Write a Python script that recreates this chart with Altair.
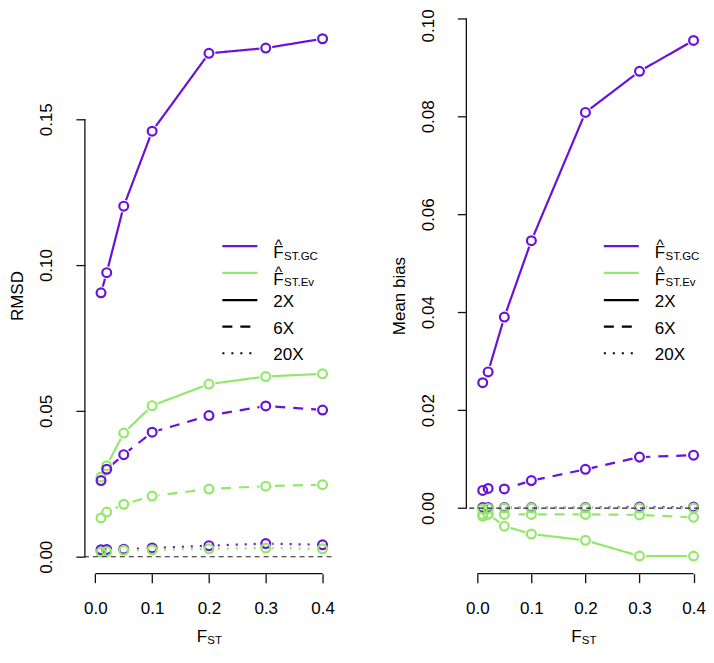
import altair as alt
import pandas as pd

FONT = "Liberation Sans"
PURPLE = "#6A12D8"
GREEN = "#92E86A"

fst = [0.01, 0.02, 0.05, 0.1, 0.2, 0.3, 0.4]
x_ticks = [0.0, 0.1, 0.2, 0.3, 0.4]

# Left panel: RMSD
rmsd_gc_2x = [0.0905, 0.0974, 0.1202, 0.1459, 0.1726, 0.1744, 0.1776]
rmsd_ev_2x = [0.0273, 0.0312, 0.0424, 0.0518, 0.0592, 0.0618, 0.0627]
rmsd_gc_6x = [0.0261, 0.0300, 0.0350, 0.0427, 0.0484, 0.0517, 0.0503]
rmsd_ev_6x = [0.0133, 0.0153, 0.0180, 0.0208, 0.0232, 0.0242, 0.0247]
rmsd_gc_20x = [0.0024, 0.0025, 0.0026, 0.0030, 0.0038, 0.0045, 0.0041]
rmsd_ev_20x = [0.0016, 0.0018, 0.0022, 0.0024, 0.0027, 0.0030, 0.0027]
rmsd_ticks = [0.0, 0.05, 0.10, 0.15]

# Right panel: mean bias
bias_gc_2x = [0.0256, 0.0278, 0.0390, 0.0546, 0.0808, 0.0892, 0.0955]
bias_ev_2x = [-0.0017, -0.0012, -0.0037, -0.0053, -0.0066, -0.0098, -0.0098]
bias_gc_6x = [0.0036, 0.0040, 0.0039, 0.0056, 0.0079, 0.0104, 0.0108]
bias_ev_6x = [-0.0013, -0.0013, -0.0013, -0.0013, -0.0013, -0.0014, -0.0019]
bias_gc_20x = [0.0001, 0.0001, 0.0001, 0.0001, 0.0001, 0.0002, 0.0002]
bias_ev_20x = [-0.0002, -0.0001, 0.0000, 0.0000, 0.0000, 0.0000, 0.0000]
bias_ticks = [0.0, 0.02, 0.04, 0.06, 0.08, 0.10]

methods = ["GC", "Ev"]
coverages = ["2X", "6X", "20X"]


def long_frame(series):
    rows = []
    for (m, c), vals in series.items():
        for xv, v in zip(fst, vals):
            rows.append({"x": xv, "value": v, "method": m, "cov": c, "series": m + c})
    return pd.DataFrame(rows)


df_rmsd = long_frame({
    ("GC", "2X"): rmsd_gc_2x, ("Ev", "2X"): rmsd_ev_2x,
    ("GC", "6X"): rmsd_gc_6x, ("Ev", "6X"): rmsd_ev_6x,
    ("GC", "20X"): rmsd_gc_20x, ("Ev", "20X"): rmsd_ev_20x,
})
df_bias = long_frame({
    ("GC", "2X"): bias_gc_2x, ("Ev", "2X"): bias_ev_2x,
    ("GC", "6X"): bias_gc_6x, ("Ev", "6X"): bias_ev_6x,
    ("GC", "20X"): bias_gc_20x, ("Ev", "20X"): bias_ev_20x,
})

DASHES = [[1, 0], [10, 8], [2, 7]]
HEIGHT = 557
AXIS_COLOR = "#111111"


def panel(df, width, xdom, ydom, yticks, ytitle, top_label_shift=0):
    x = alt.X("x:Q", scale=alt.Scale(domain=xdom, nice=False, zero=False),
              axis=alt.Axis(values=x_ticks, format=".1f", domain=False, grid=False,
                            ticks=True, tickSize=9, tickColor=AXIS_COLOR, tickWidth=1.3,
                            labelPadding=18, labelFontSize=17, labelColor="black",
                            labelFont=FONT, title=None))
    label_offset = alt.condition(f"datum.value >= {yticks[-1] - 1e-9}",
                                 alt.value(top_label_shift), alt.value(0))
    y = alt.Y("value:Q", scale=alt.Scale(domain=ydom, nice=False, zero=False),
              axis=alt.Axis(values=yticks, format=".2f", domain=False, grid=False,
                            ticks=True, tickSize=9, tickColor=AXIS_COLOR, tickWidth=1.3,
                            labelAngle=270, labelAlign="center", labelBaseline="bottom",
                            labelOffset=label_offset,
                            labelPadding=20, labelFontSize=17, labelColor="black",
                            labelFont=FONT, title=ytitle, titleAngle=270,
                            titleBaseline="bottom", titlePadding=11, titleFontSize=17,
                            titleFont=FONT, titleFontWeight="normal", titleColor="black"))
    color = alt.Color("method:N", scale=alt.Scale(domain=methods, range=[PURPLE, GREEN]), legend=None)
    dash = alt.StrokeDash("cov:N", scale=alt.Scale(domain=coverages, range=DASHES), legend=None)

    base = alt.Chart(df)
    lines = base.mark_line(strokeWidth=2.2).encode(
        x=x, y=y, color=color, strokeDash=dash, detail="series:N")
    halos = base.mark_point(shape="circle", filled=True, color="white", size=170,
                            opacity=1, strokeWidth=0).encode(x=x, y=y)
    circles = base.mark_point(shape="circle", filled=False, size=78, strokeWidth=2.2,
                              opacity=1).encode(x=x, y=y, color=color)

    # axis lines spanning only the tick range (as in R)
    yaxis_line = alt.Chart(pd.DataFrame({"x": [xdom[0]], "value": [yticks[0]], "value2": [yticks[-1]]})).mark_rule(
        color=AXIS_COLOR, strokeWidth=1.3).encode(x=x, y=y, y2="value2:Q")
    xaxis_line = alt.Chart(pd.DataFrame({"x": [x_ticks[0]], "x2": [x_ticks[-1]], "value": [ydom[0]]})).mark_rule(
        color=AXIS_COLOR, strokeWidth=1.3).encode(x=x, x2="x2:Q", y=y)
    zero_line = alt.Chart(pd.DataFrame({"value": [0.0]})).mark_rule(
        color="#222222", strokeWidth=1.2, strokeDash=[5, 4]).encode(y=y)

    layers = [lines, halos, circles, zero_line, yaxis_line, xaxis_line]

    # x-axis title F_ST
    dummy = alt.Data(values=[{}])
    cx = width / 2.0 + 1
    layers.append(alt.Chart(dummy).mark_text(text="F", align="left", baseline="alphabetic",
                  fontSize=17, font=FONT, color="black").encode(
        x=alt.value(cx - 12.5), y=alt.value(HEIGHT + 68)))
    layers.append(alt.Chart(dummy).mark_text(text="ST", align="left", baseline="alphabetic",
                  fontSize=11.5, font=FONT, color="black").encode(
        x=alt.value(cx - 12.5 + 10.6), y=alt.value(HEIGHT + 70)))

    # legend
    rows = [229, 255.7, 283, 309.7, 336.3]
    lx0, lx1, tx = 137.7, 172.7, 188.7
    leg_lines = [(PURPLE, [1, 0]), (GREEN, [1, 0]), ("black", DASHES[0]),
                 ("black", DASHES[1]), ("black", DASHES[2])]
    for (col, dsh), ry in zip(leg_lines, rows):
        layers.append(alt.Chart(dummy).mark_rule(color=col, strokeDash=dsh, strokeWidth=2.2).encode(
            x=alt.value(lx0), x2=alt.value(lx1), y=alt.value(ry)))
    for sub, ry in zip(["ST.GC", "ST.Ev"], rows[:2]):
        layers.append(alt.Chart(dummy).mark_text(text="^", align="center", baseline="alphabetic",
                      fontSize=15, font=FONT, color="black").encode(
            x=alt.value(tx + 5.2), y=alt.value(ry + 4.0)))
        layers.append(alt.Chart(dummy).mark_text(text="F", align="left", baseline="alphabetic",
                      fontSize=17, font=FONT, color="black").encode(
            x=alt.value(tx), y=alt.value(ry + 12.3)))
        layers.append(alt.Chart(dummy).mark_text(text=sub, align="left", baseline="alphabetic",
                      fontSize=11.5, font=FONT, color="black").encode(
            x=alt.value(tx + 10.8), y=alt.value(ry + 13.5)))
    for lab, ry in zip(coverages, rows[2:]):
        layers.append(alt.Chart(dummy).mark_text(text=lab, align="left", baseline="alphabetic",
                      fontSize=17, font=FONT, color="black").encode(
            x=alt.value(tx), y=alt.value(ry + 7.1)))

    return alt.layer(*layers).properties(width=width, height=HEIGHT)


left = panel(df_rmsd, 247, [-0.0184, 0.4158], [-0.0058, 0.1849], rmsd_ticks, "RMSD")
right = panel(df_bias, 233, [-0.0203, 0.4101], [-0.0134, 0.1002], bias_ticks, "Mean bias",
              top_label_shift=7)

chart = alt.hconcat(left, right, spacing=135, bounds="flush").properties(
    padding={"top": 0, "left": 0, "right": 0, "bottom": 0},
    background="white",
).configure_view(stroke=None)

chart.save("out.html", embed_options={"renderer": "svg", "actions": False})
